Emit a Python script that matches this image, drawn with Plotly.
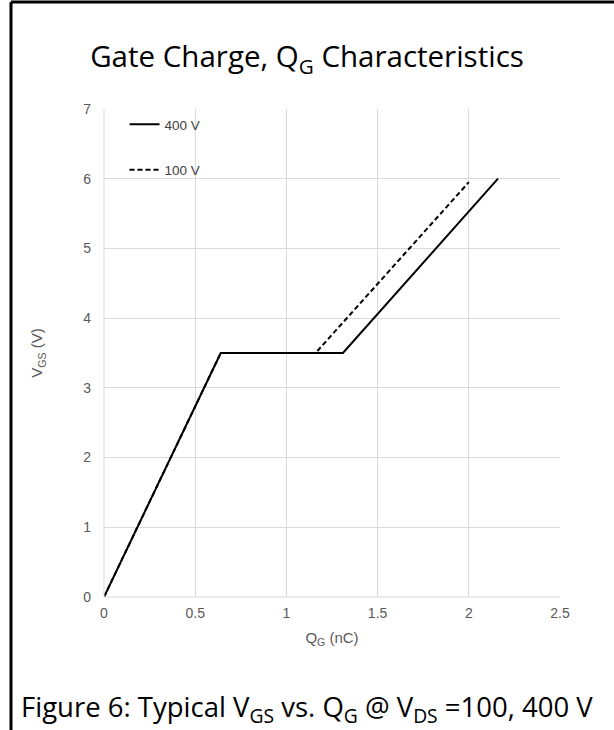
import plotly.graph_objects as go

# Data
qg_400 = [0, 0.64, 1.31, 2.16]
vgs_400 = [0, 3.5, 3.5, 6.0]
qg_100 = [0, 0.64, 1.16, 2.0]
vgs_100 = [0, 3.5, 3.5, 5.95]
series_names = ["400 V", "100 V"]

x_ticks = [0, 0.5, 1, 1.5, 2, 2.5]
x_tick_labels = ["0", "0.5", "1", "1.5", "2", "2.5"]
y_ticks = [0, 1, 2, 3, 4, 5, 6, 7]

fig = go.Figure()
fig.add_trace(go.Scatter(x=qg_400, y=vgs_400, mode="lines", name=series_names[0],
                         line=dict(color="black", width=2), legendgroup="a"))
fig.add_trace(go.Scatter(x=qg_100, y=vgs_100, mode="lines", name=series_names[1],
                         line=dict(color="black", width=2, dash="5px,3px"), legendgroup="b"))

tick_font = dict(family="Liberation Sans, Arial", size=14, color="#595959")
axis_title_font = dict(family="Liberation Sans, Arial", size=15, color="#595959")
fig.update_layout(
    width=614, height=730,
    margin=dict(l=104, r=54, t=109, b=133),
    paper_bgcolor="white", plot_bgcolor="white",
    title=dict(text="Gate Charge, Q<sub>G</sub> Characteristics",
               font=dict(family="Open Sans", size=29.5, color="black"),
               x=0.5, xanchor="center", y=1 - 57 / 730, yanchor="middle"),
    legend=dict(x=0.045, y=1.0, xanchor="left", yanchor="top",
                font=dict(family="Liberation Sans, Arial", size=13.5, color="#404040"),
                bgcolor="rgba(0,0,0,0)", tracegroupgap=25),
    xaxis=dict(range=[0, 2.5], tickvals=x_ticks, ticktext=x_tick_labels,
               showgrid=True, gridcolor="#d9d9d9", gridwidth=1,
               zeroline=False, showline=False, ticks="", tickfont=tick_font,
               ticklabelstandoff=6,
               title=dict(text="Q<sub>G</sub> (nC)", font=axis_title_font, standoff=12)),
    yaxis=dict(range=[0, 7], tickvals=y_ticks,
               showgrid=True, gridcolor="#d9d9d9", gridwidth=1,
               zeroline=False, showline=False, ticks="", tickfont=tick_font,
               ticklabelstandoff=12,
               title=dict(text="V<sub>GS</sub> (V)", font=axis_title_font, standoff=36)),
    showlegend=True,
)
# left and bottom plot edges (gridline colour)
fig.add_shape(type="line", xref="paper", yref="paper", x0=0, x1=0, y0=0, y1=1,
              line=dict(color="#d9d9d9", width=1))
fig.add_shape(type="line", xref="paper", yref="paper", x0=0, x1=1, y0=0, y1=0,
              line=dict(color="#d9d9d9", width=1))
# outer frame (left and top edges)
fig.add_shape(type="line", xref="paper", yref="paper", x0=-93 / 456, x1=-93 / 456, y0=-0.35, y1=595 / 488,
              line=dict(color="black", width=3))
fig.add_shape(type="line", xref="paper", yref="paper", x0=-93 / 456, x1=1.3, y0=595 / 488, y1=595 / 488,
              line=dict(color="black", width=3))
fig.add_annotation(text="Figure 6: Typical V<sub>GS</sub> vs. Q<sub>G</sub> @ V<sub>DS</sub> =100, 400 V",
                   xref="paper", yref="paper", x=(307 - 104) / 456, y=(597 - 708) / 488,
                   xanchor="center", yanchor="middle", showarrow=False,
                   font=dict(family="Open Sans", size=27.5, color="black"))

fig.write_html("out.html", config={"displayModeBar": False},
               post_script="document.body.style.margin='0px';document.documentElement.style.overflow='hidden';")
